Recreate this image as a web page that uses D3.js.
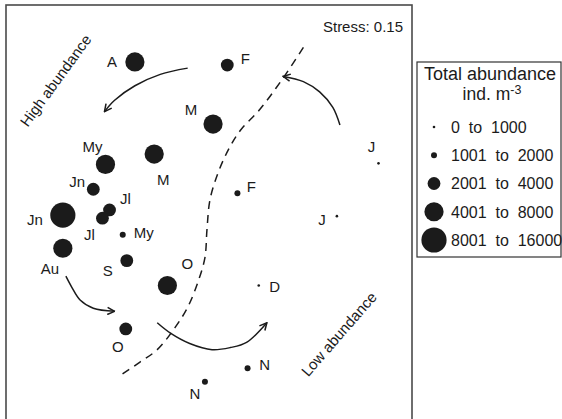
<!DOCTYPE html>
<html>
<head>
<meta charset="utf-8">
<script src="https://cdn.jsdelivr.net/npm/d3@7"></script>
<style>
  html, body { margin: 0; padding: 0; background: #fff; }
  svg { display: block; font-family: Arial, "Liberation Sans", Helvetica, sans-serif; }
</style>
</head>
<body>
<svg id="chart" width="562" height="419"></svg>
<script>
// NMDS ordination of monthly samples (axis units), sized by abundance class
const sampleLabels = ["A", "F", "M", "My", "M", "Jn", "Jl", "Jl", "Jn", "My",
                      "Au", "S", "O", "O", "F", "J", "J", "D", "N", "N"];
const nmds1 = [-0.73, 0.18, 0.04, -1.02, -0.54, -1.14, -0.98, -1.05, -1.44, -0.85,
               -1.44, -0.81, -0.41, -0.82, 0.28, 1.67, 1.26, 0.49, 0.38, -0.04];
const nmds2 = [1.45, 1.42, 0.85, 0.46, 0.56, 0.22, 0.02, -0.06, -0.03, -0.22,
               -0.35, -0.47, -0.71, -1.13, 0.18, 0.47, -0.04, -0.71, -1.51, -1.64];
// abundance class index (0 = lowest) for each sample
const abundanceClass = [3, 2, 3, 3, 3, 2, 2, 2, 4, 1,
                        3, 2, 3, 2, 1, 0, 0, 0, 1, 1];
const classLabels = ["0  to  1000", "1001  to  2000", "2001  to  4000",
                     "4001  to  8000", "8001  to  16000"];
const stressValue = 0.15;

// guide curves in ordination units
const boundaryLine = [[0.93, 1.59], [0.72, 1.28], [0.50, 0.99], [0.31, 0.79], [0.19, 0.60],
                      [0.09, 0.38], [0.01, 0.12], [-0.02, -0.17], [-0.04, -0.44], [-0.11, -0.68],
                      [-0.21, -0.92], [-0.33, -1.11], [-0.51, -1.33], [-0.68, -1.45], [-0.86, -1.57]];
const trendArrows = [
  [[-0.21, 1.39], [-0.48, 1.33], [-0.73, 1.22], [-0.93, 1.08], [-1.03, 0.97]],
  [[1.29, 0.84], [1.22, 1.01], [1.09, 1.16], [0.93, 1.26], [0.73, 1.31]],
  [[-1.41, -0.62], [-1.35, -0.73], [-1.27, -0.85], [-1.14, -0.93], [-0.93, -0.96]],
  [[-0.51, -1.07], [-0.38, -1.17], [-0.19, -1.27], [0.03, -1.33], [0.21, -1.31], [0.37, -1.26], [0.57, -1.07]]
];
const gradientNotes = [
  { text: "High abundance", at: [-1.51, 1.27], angle: -54 },
  { text: "Low abundance", at: [1.28, -1.18], angle: -49 }
];

// label placement around each point (pixels)
const labelNudge = [[-23, 0], [18, -6], [-22, -14], [-13, -18], [9, 26], [-16, -8], [16, -11], [-13, 16],
                    [-28, 4], [21, -2], [-13, 20], [-19, 10], [20, -22], [-8, 18], [14, -7],
                    [-7, -17], [-15, 3], [16, 1], [17, -4], [-10, 12]];

const svg = d3.select("#chart");
const frame = { left: 6, top: 5, right: 412, bottom: 425 };
const ink = "#1b1b1b";

const x = d3.scaleLinear().domain([-2, 2]).range([frame.left, frame.right]);
const y = d3.scaleLinear().domain([-2, 2]).range([419, frame.top]);
const radius = d3.scaleOrdinal().domain([0, 1, 2, 3, 4]).range([1.3, 3, 6.4, 9.6, 12.6]);

svg.append("defs").append("marker")
  .attr("id", "head")
  .attr("viewBox", "0 0 10 10")
  .attr("refX", 9).attr("refY", 5)
  .attr("markerWidth", 9).attr("markerHeight", 9)
  .attr("markerUnits", "userSpaceOnUse")
  .attr("orient", "auto")
  .append("path")
  .attr("d", "M1,1 L9,5 L1,9")
  .attr("fill", "none")
  .attr("stroke", ink)
  .attr("stroke-width", 1.7);

// plot frame
svg.append("rect")
  .attr("x", frame.left).attr("y", frame.top)
  .attr("width", frame.right - frame.left).attr("height", frame.bottom - frame.top)
  .attr("fill", "none").attr("stroke", "#4a4a4a").attr("stroke-width", 1.6);

svg.append("text")
  .attr("x", frame.right - 9).attr("y", frame.top + 27)
  .attr("text-anchor", "end").attr("font-size", 15).attr("fill", ink)
  .text("Stress: " + stressValue.toFixed(2));

const line = d3.line().x(d => x(d[0])).y(d => y(d[1])).curve(d3.curveCatmullRom.alpha(0.5));

svg.append("path")
  .attr("d", line(boundaryLine))
  .attr("fill", "none").attr("stroke", ink)
  .attr("stroke-width", 1.5).attr("stroke-dasharray", "8,6");

svg.selectAll("path.trend").data(trendArrows).join("path")
  .attr("class", "trend")
  .attr("d", line)
  .attr("fill", "none").attr("stroke", ink).attr("stroke-width", 1.5)
  .attr("marker-end", "url(#head)");

svg.selectAll("text.note").data(gradientNotes).join("text")
  .attr("class", "note")
  .attr("transform", d => `translate(${x(d.at[0])},${y(d.at[1])}) rotate(${d.angle})`)
  .attr("text-anchor", "middle").attr("dy", "0.35em")
  .attr("font-size", 15).attr("fill", ink)
  .text(d => d.text);

const samples = sampleLabels.map((name, i) => ({
  name, sx: nmds1[i], sy: nmds2[i], cls: abundanceClass[i], nudge: labelNudge[i]
}));

svg.selectAll("circle.sample").data(samples).join("circle")
  .attr("class", "sample")
  .attr("cx", d => x(d.sx)).attr("cy", d => y(d.sy))
  .attr("r", d => radius(d.cls))
  .attr("fill", ink);

svg.selectAll("text.sample").data(samples).join("text")
  .attr("class", "sample")
  .attr("x", d => x(d.sx) + d.nudge[0]).attr("y", d => y(d.sy) + d.nudge[1])
  .attr("dy", "0.36em").attr("text-anchor", "middle")
  .attr("font-size", 15).attr("fill", ink)
  .text(d => d.name);

// legend
const lg = { left: 417, top: 62, right: 561, bottom: 257 };
svg.append("rect")
  .attr("x", lg.left).attr("y", lg.top)
  .attr("width", lg.right - lg.left).attr("height", lg.bottom - lg.top)
  .attr("fill", "#fff").attr("stroke", "#333").attr("stroke-width", 1.2);

const cxLeg = (lg.left + lg.right) / 2;
svg.append("text")
  .attr("x", cxLeg + 1).attr("y", lg.top + 18)
  .attr("text-anchor", "middle").attr("font-size", 18).attr("fill", ink)
  .text("Total abundance");
const unit = svg.append("text")
  .attr("x", cxLeg + 3).attr("y", lg.top + 38)
  .attr("text-anchor", "middle").attr("font-size", 17.5).attr("fill", ink);
unit.append("tspan").text("ind. m");
unit.append("tspan").attr("dy", -6).attr("font-size", 12.5).text("-3");

const rowY = d3.scalePoint().domain(d3.range(classLabels.length)).range([lg.top + 65, lg.top + 178]);
const rows = svg.selectAll("g.row").data(classLabels).join("g")
  .attr("class", "row")
  .attr("transform", (d, i) => `translate(0,${rowY(i)})`);
rows.append("circle")
  .attr("cx", 434).attr("cy", 0)
  .attr("r", (d, i) => radius(i))
  .attr("fill", ink);
rows.append("text")
  .attr("x", 451).attr("y", 0).attr("dy", "0.36em")
  .attr("font-size", 16).attr("fill", ink)
  .style("white-space", "pre")
  .text(d => d);
</script>
</body>
</html>
